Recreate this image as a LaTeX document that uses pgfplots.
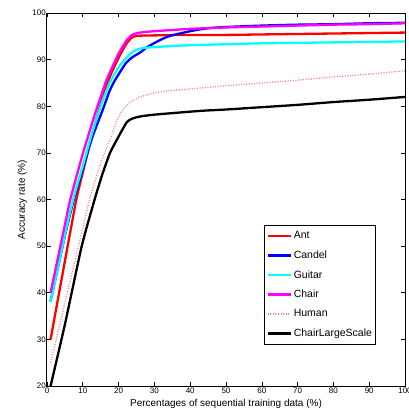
\documentclass[border=0pt]{standalone}
\usepackage{fontspec}
\setmainfont{Liberation Sans}
\usepackage{pgfplots}
\pgfplotsset{compat=1.18}
\definecolor{HumanPink}{HTML}{FF8080}
\definecolor{Ant}{RGB}{255,0,0}
\definecolor{Candel}{RGB}{0,0,255}
\definecolor{Guitar}{RGB}{0,255,255}
\definecolor{Chair}{RGB}{255,0,255}

\begin{document}
\begin{tikzpicture}
\begin{axis}[
  scale only axis,width=358pt,height=373pt,
  xmin=0,xmax=100,ymin=20,ymax=100,
  xtick={0,10,...,100},ytick={20,30,...,100},
  tick align=inside,major tick length=4pt,
  tick style={black,line width=0.6pt},
  axis line style={black,line width=1pt},
  tick label style={font=\fontsize{8}{9}\selectfont},
  yticklabel style={inner xsep=1pt},
  xticklabel style={inner ysep=1.5pt},
  /pgf/number format/assume math mode=true,
  label style={font=\fontsize{10.5}{12}\selectfont},
  xlabel={Percentages of sequential training data (\%)},
  ylabel={Accuracy rate (\%)},
  every axis x label/.style={at={(axis description cs:0.5,-0.048)},anchor=center},
  every axis y label/.style={at={(axis description cs:-0.069,0.5)},rotate=90,anchor=center},
  legend cell align=left,
  legend style={at={(axis cs:91.9,54.5)},anchor=north east,
    draw=black,line width=1pt,font=\fontsize{10.5}{12}\selectfont,
    inner xsep=1.5pt,inner ysep=4pt,row sep=6.5pt,
    nodes={inner xsep=2pt}},
  legend image code/.code={\draw[#1,sharp plot] (0pt,0pt) -- (23pt,0pt);},
  every axis plot/.append style={line width=2.3pt,smooth,tension=0.35},
]
\addplot[Ant] coordinates {(1,30) (5,46.8) (8.2,60) (10,65.8) (12.5,73.6) (15,80.5) (17.5,86.2) (20,90.4) (22,93.2) (23.5,94.6) (25,95.1) (30,95.2) (40,95.3) (50,95.3) (60,95.4) (70,95.5) (80,95.6) (90,95.7) (100,95.8)};
\addlegendentry{Ant}
\addplot[Candel] coordinates {(1,38.2) (5,52.2) (7.5,60) (10,66.5) (12.5,73) (15.6,79.3) (17.5,83.3) (19,85.6) (22,89.2) (24,90.6) (26,91.5) (28,92.7) (31.6,94.2) (34.4,95.1) (40,96.1) (44.6,96.7) (50,97) (60,97.3) (70,97.5) (80,97.6) (90,97.8) (100,97.9)};
\addlegendentry{Candel}
\addplot[Guitar] coordinates {(1,38) (5,52.4) (7.3,60) (10,67.2) (12.5,74) (15,80) (17.5,85) (20,88.4) (22,90.2) (23.5,91.4) (25,92.1) (27,92.5) (30,92.7) (40,93.1) (50,93.3) (60,93.5) (70,93.6) (80,93.7) (90,93.8) (100,93.9)};
\addlegendentry{Guitar}
\addplot[Chair] coordinates {(1,40) (5,54.6) (6.5,60) (10,69.8) (13.5,78.6) (15,82) (16.7,85.8) (20,91.3) (22.3,94.2) (24,95.4) (26,95.8) (30,96.1) (40,96.6) (50,96.9) (60,97.1) (70,97.3) (80,97.5) (90,97.6) (100,97.8)};
\addlegendentry{Chair}
\addplot[HumanPink,line width=1.3pt,dash pattern=on 1pt off 1.6pt] coordinates {(1,25) (5,37.8) (8.8,50) (11.9,60) (15,67.8) (17.6,72.8) (19.5,76.8) (21.3,79.4) (23.5,81) (26,82) (31.6,83.1) (42.7,83.9) (50,84.4) (60,85) (70,85.6) (80,86.3) (90,86.9) (100,87.6)};
\addlegendentry{Human}
\addplot[black] coordinates {(1,20) (5,33.2) (9.7,50) (13.3,60) (15.5,65.5) (17.6,70) (19.5,72.8) (22.3,76.6) (24,77.4) (26,77.8) (30,78.2) (42.7,79) (50,79.3) (60,79.8) (70,80.3) (80,80.9) (90,81.4) (100,82)};
\addlegendentry{ChairLargeScale}
\end{axis}
\pgfresetboundingbox
\path[use as bounding box] (current axis.south west) ++(-47pt,-24pt) rectangle ([shift={(4pt,13pt)}]current axis.north east);
\end{tikzpicture}
\end{document}
